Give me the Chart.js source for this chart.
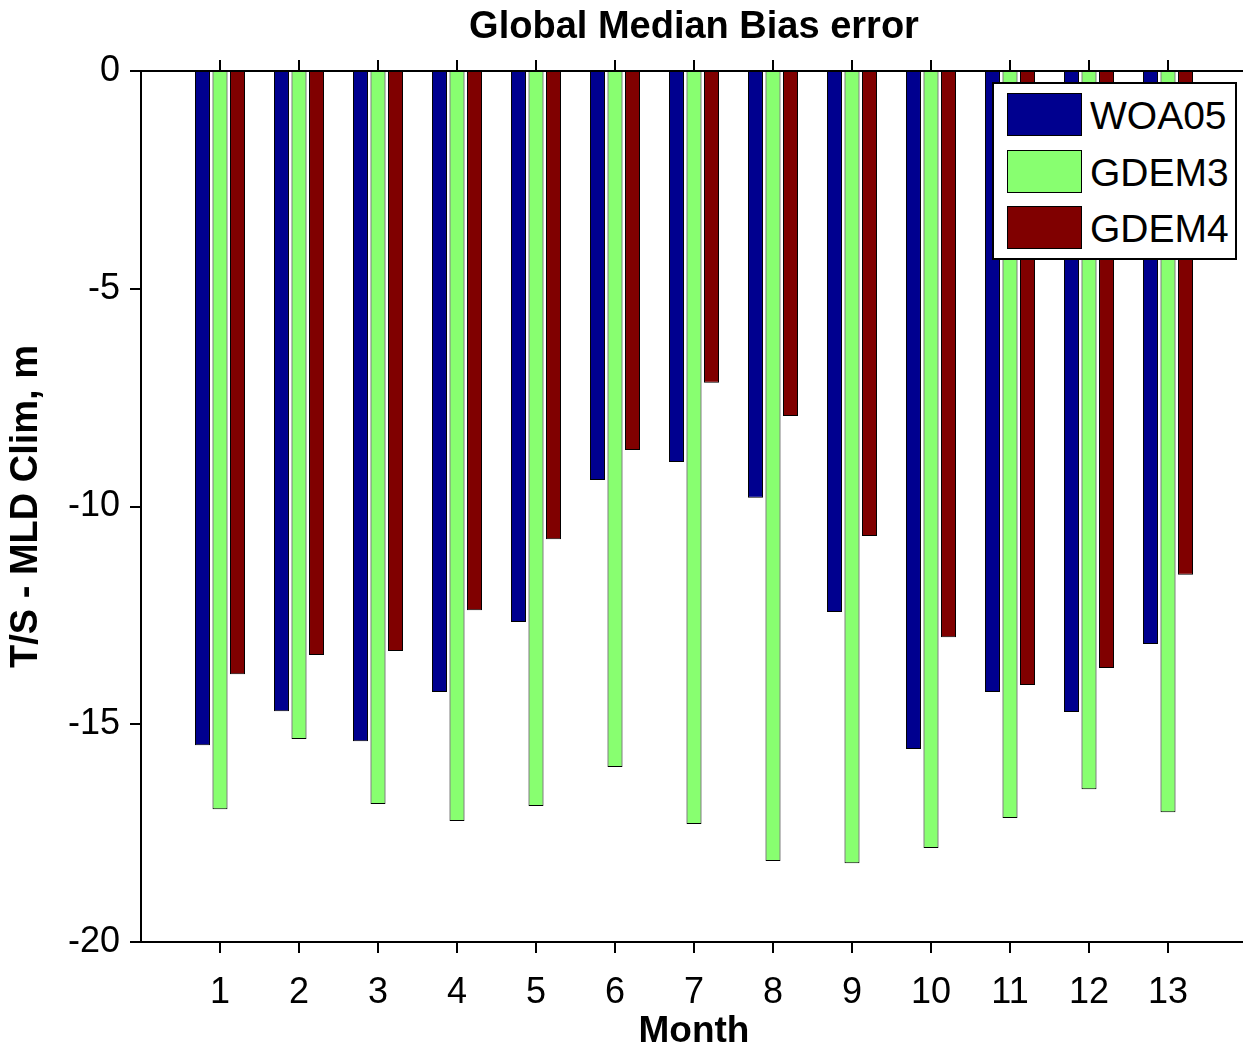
<!DOCTYPE html>
<html>
<head>
<meta charset="utf-8">
<script src="https://cdn.jsdelivr.net/npm/chart.js@4.4.1/dist/chart.umd.min.js"></script>
<style>
  html, body { margin: 0; padding: 0; background: #fff; overflow: hidden; }
  #wrap { position: relative; width: 1265px; height: 1057px; }
  #legend {
    position: absolute; left: 992px; top: 82px; width: 245px; height: 178px;
    box-sizing: border-box; border: 2px solid #000; background: #fff;
    font-family: 'Liberation Sans', Arial, sans-serif; font-size: 39px; color: #000;
  }
  .item { position: absolute; left: 13px; height: 43px; }
  .sw { position: absolute; left: 0; top: 0; width: 75px; height: 43px; box-sizing: border-box; border: 1px solid #000; }
  .lbl { position: absolute; left: 83px; top: 1px; line-height: 43px; white-space: nowrap; }
</style>
</head>
<body>
<div id="wrap">
  <!-- canvas is a bit wider than the window: the plot box runs past the right edge -->
  <canvas id="c" width="1265" height="1057"></canvas>
  <div id="legend"></div>
</div>
<script>
const months = ['1', '2', '3', '4', '5', '6', '7', '8', '9', '10', '11', '12', '13'];
const woa05 = [-15.48, -14.70, -15.39, -14.26, -12.65, -9.39, -8.98, -9.80, -12.42, -15.57, -14.26, -14.72, -13.16];
const gdem3 = [-16.95, -15.34, -16.83, -17.22, -16.88, -15.98, -17.29, -18.14, -18.19, -17.84, -17.15, -16.49, -17.02];
const gdem4 = [-13.85, -13.41, -13.32, -12.38, -10.75, -8.70, -7.16, -7.92, -10.68, -13.00, -14.10, -13.71, -11.57];
const seriesNames = ['WOA05', 'GDEM3', 'GDEM4'];
const seriesColors = ['#00008f', '#88ff70', '#800000'];

const FONT = "'Liberation Sans', Arial, sans-serif";
const labels = [''].concat(months, ['']);
const pad = (arr) => [null].concat(arr, [null]);

function barSet(i, values) {
  return {
    label: seriesNames[i],
    data: pad(values),
    backgroundColor: seriesColors[i],
    borderColor: '#000',
    borderWidth: 1,
    categoryPercentage: 0.665,
    barPercentage: 0.857,
  };
}

// hide tick marks at the two empty end slots
const tickColor = (c) => (c.index === 0 || c.index === labels.length - 1 ? 'rgba(0,0,0,0)' : '#000');

const chart = new Chart(document.getElementById('c'), {
  type: 'bar',
  data: {
    labels: labels,
    datasets: [barSet(0, woa05), barSet(1, gdem3), barSet(2, gdem4)],
  },
  options: {
    responsive: false,
    animation: false,
    layout: { padding: 0 },
    plugins: {
      legend: { display: false },
      tooltip: { enabled: false },
      title: {
        display: true,
        fullSize: false,
        text: 'Global Median Bias error',
        color: '#000',
        font: { family: FONT, size: 38, weight: 'bold', lineHeight: 1.2 },
        padding: { top: 5, bottom: 0 },
      },
    },
    scales: {
      x: {
        type: 'category',
        offset: false,
        position: 'bottom',
        grid: { offset: false, drawOnChartArea: false, drawTicks: true, tickLength: 11, lineWidth: 2, color: tickColor },
        border: { display: true, color: '#000', width: 2 },
        ticks: {
          color: '#000', padding: 18, maxRotation: 0, autoSkip: false,
          font: { family: FONT, size: 36 },
        },
        title: {
          display: true, text: 'Month', color: '#000',
          font: { family: FONT, size: 37, weight: 'bold', lineHeight: 1.2 },
          padding: { top: 0, bottom: 3 },
        },
        afterFit: (s) => { s.height = 115; },
      },
      x2: {
        type: 'category',
        offset: false,
        position: 'top',
        grid: { offset: false, drawOnChartArea: false, drawTicks: true, tickLength: 11, lineWidth: 2, color: tickColor },
        border: { display: true, color: '#000', width: 2 },
        ticks: { display: false },
        afterFit: (s) => { s.height = 71 - 50.6; },
      },
      y: {
        min: -20,
        max: 0,
        position: 'left',
        grid: { drawOnChartArea: false, drawTicks: true, tickLength: 11, lineWidth: 2, color: '#000' },
        border: { display: true, color: '#000', width: 2 },
        ticks: { stepSize: 5, color: '#000', padding: 10, font: { family: FONT, size: 36 } },
        title: {
          display: true, text: 'T/S - MLD Clim, m', color: '#000',
          font: { family: FONT, size: 38, weight: 'bold', lineHeight: 1.2 },
          padding: { top: 4, bottom: 0 },
        },
        afterFit: (s) => { s.width = 141; },
      },
    },
  },
});

// legend box built from the chart's datasets
const legend = document.getElementById('legend');
chart.data.datasets.forEach((ds, i) => {
  const item = document.createElement('div');
  item.className = 'item';
  item.style.top = (9 + i * 56.5) + 'px';
  const sw = document.createElement('div');
  sw.className = 'sw';
  sw.style.background = ds.backgroundColor;
  const lbl = document.createElement('div');
  lbl.className = 'lbl';
  lbl.textContent = ds.label;
  item.appendChild(sw);
  item.appendChild(lbl);
  legend.appendChild(item);
});
</script>
</body>
</html>
